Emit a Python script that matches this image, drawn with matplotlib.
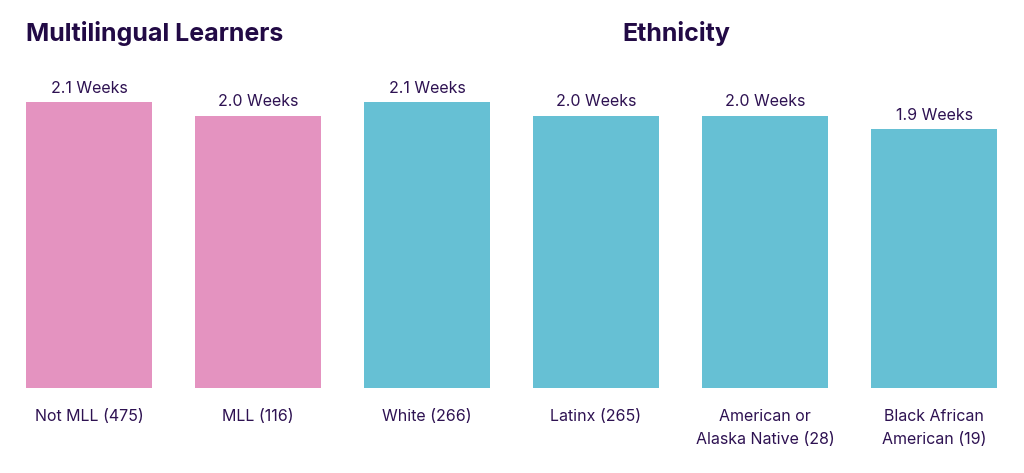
import matplotlib
matplotlib.use("Agg")
import matplotlib.pyplot as plt
import numpy as np

# data
categories = [
    "Not MLL (475)",
    "MLL (116)",
    "White (266)",
    "Latinx (265)",
    "American or\nAlaska Native (28)",
    "Black African\nAmerican (19)",
]
weeks = [2.1, 2.0, 2.1, 2.0, 2.0, 1.9]
groups = ["mll", "mll", "eth", "eth", "eth", "eth"]
group_titles = {"mll": "Multilingual Learners", "eth": "Ethnicity"}

PINK = "#E493C0"
TEAL = "#66C0D4"
TEXT = "#2E1252"
TITLE = "#220A45"
group_colors = {"mll": PINK, "eth": TEAL}

plt.rcParams["font.family"] = ["Inter", "DejaVu Sans"]

W, H = 1024, 473
fig = plt.figure(figsize=(W / 100, H / 100), dpi=100)

# axes geometry in pixels
base_px = 388
px_per_unit = 286 / 2.1
ax_h_px = 300
first_center, spacing = 89, 169

ax = fig.add_axes([0, (H - base_px) / H, 1, ax_h_px / H])
ax.set_xlim(-first_center / spacing, (W - first_center) / spacing)
ax.set_ylim(0, ax_h_px / px_per_unit)
ax.axis("off")

x = np.arange(len(categories))
colors = [group_colors[g] for g in groups]
ax.bar(x, weeks, width=126 / spacing, color=colors, edgecolor="none")

for xi, v, cat in zip(x, weeks, categories):
    ax.annotate(f"{v:.1f} Weeks", (xi, v), xytext=(0, 4.5), textcoords="offset points",
                ha="center", va="bottom", fontsize=11.5, color=TEXT)
    ax.annotate(cat, (xi, 0), xytext=(0, -15), textcoords="offset points",
                ha="center", va="top", fontsize=11.5, color=TEXT, linespacing=1.65)

# group titles
eth_x = x[[g == "eth" for g in groups]]
fig.text(26 / W, 1 - 33 / H, group_titles["mll"], ha="left", va="center",
         fontsize=18, fontweight="bold", color=TITLE)
eth_center = ax.transData.transform((eth_x.mean(), 0))[0] / W - 4 / W
fig.text(eth_center, 1 - 33 / H, group_titles["eth"], ha="center", va="center",
         fontsize=18, fontweight="bold", color=TITLE)

fig.savefig("out.png", dpi=100, facecolor="white")
